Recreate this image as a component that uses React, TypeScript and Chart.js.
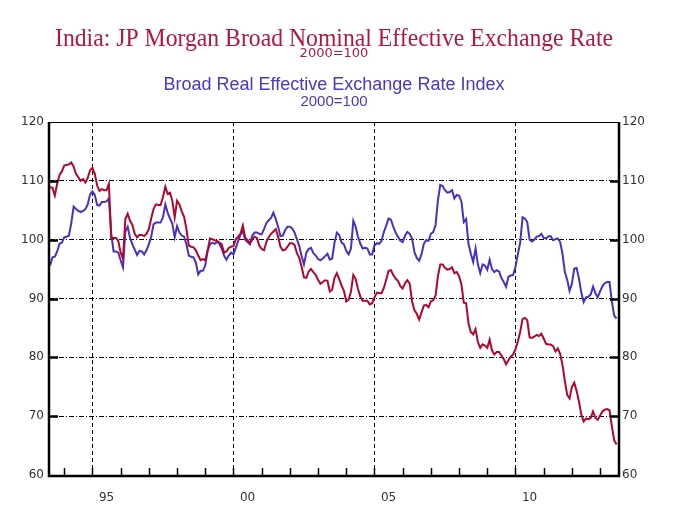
import React, { useEffect, useRef } from 'react';
import { Chart, registerables } from 'chart.js';

Chart.register(...registerables);

// ---- Data (monthly, starting July 1993) ----
const START_YEAR = 1993;
const START_MONTH = 7;

const nominalValues = [
  108.9, 108.8, 107.5, 109.5, 111, 111.6, 112.6, 112.7, 112.8, 113.1,
  112.4, 111.2, 110.6, 110, 110.3, 109.7, 110.5, 111.8, 112.2, 111.2,
  109.2, 108.3, 108.6, 108.4, 108.4, 109.5, 100.3, 100.3, 100.3, 99.8,
  97.8, 96.8, 103.5, 104.4, 103.2, 102.5, 101, 100.4, 100.8, 100.8,
  100.6, 101, 101.8, 103.6, 105.2, 106, 105.9, 105.9, 107.2, 109,
  107.8, 108, 106.6, 103.8, 106.6, 106, 104.8, 103.9, 101.8, 99,
  98.8, 98.7, 98.2, 97.3, 96.5, 96.7, 96.5, 98.1, 100.2, 100.1,
  99.9, 99.8, 99.5, 99.2, 97.8, 98, 98.6, 98.8,
  98.9, 100.1, 100.5, 101, 102.4, 100.3, 99.9, 99.4, 100, 100.5,
  100.3, 99, 98.4, 98.2, 99.6, 100.4, 101, 101.4, 101.8, 100.5,
  98.8, 98.2, 98.3, 98.8, 99.4, 99.4, 99.1, 97.7, 96.9, 95.4,
  93.6, 93.5, 94.6, 95, 94.5, 94, 93.2, 92.5, 92.8, 93.1,
  93, 91.2, 91.5, 93.5, 94.3, 93.3, 92.2, 91.3, 89.5, 89.8,
  91.2, 94, 93.3, 91.6, 90.3, 89.6, 89.6, 89.6, 89, 89.2,
  90.2, 91, 90.9, 90.9, 91.8, 93.2, 94.7, 94.8, 94, 93.4,
  93, 92.1, 91.7, 92.6, 93.1, 92.5, 89.5, 88, 87.4,
  86.4, 87.6, 88.8, 88.9, 88.5, 89.5, 89.7, 90.5, 93.8, 95.8,
  95.8, 95.2, 94.9, 95, 95.3, 94.3, 94.5, 93.8, 92.4, 89.3,
  89.2, 85.8, 84.3, 83.9, 84.8, 82.6, 81.6, 82.2, 82, 81.6,
  83, 81.2, 80.5, 80.9, 80.9, 80.3, 79.7, 78.8, 79.5, 80.1,
  80.5, 81.4, 82.7, 84.3, 86.5, 86.7, 86.3, 83.4, 83.3, 83.5,
  83.8, 83.6, 84, 83.2, 82.3, 82.2, 82.2, 81.9, 81, 81.5,
  80.6, 78.7, 76, 73.6, 73, 75, 75.7, 74.3, 72.5, 70.3,
  69.1, 69.6, 69.5, 69.7, 70.8, 69.7, 69.4, 70.1, 70.8, 71.1,
  71.2, 71, 68.3, 65.9, 65.2,
];

const realValues = [
  95.6, 97, 97.1, 98, 99.3, 99.5, 100.4, 100.5, 100.7, 102.8,
  105.6, 105.2, 104.9, 104.7, 104.9, 105.2, 106, 107.7, 108.2, 107.6,
  105.9, 105.8, 106.4, 106.4, 106.5, 107, 101, 98, 98, 97.8,
  96.5, 95.3, 101.4, 102.2, 100.3, 99.2, 98.3, 97.4, 98.1, 98,
  97.5, 98.2, 99.2, 100.5, 102.6, 102.9, 102.9, 102.9, 103.8, 106,
  104.6, 103.6, 102.7, 100.4, 102.3, 101.2, 100.7, 100.5, 99.2, 97.3,
  97.1, 97, 96.1, 94.1, 94.7, 94.7, 95.6, 98.1, 99.2, 99.5,
  99.3, 99.6, 99.3, 98.5, 97.3, 96.6, 97.3, 97.8,
  97.5, 98.6, 99.8, 100.9, 101.5, 100, 99.6, 99.2, 100.7, 101.2,
  101.2, 101, 100.9, 101.8, 102.8, 103.3, 103.7, 104.6, 103.5, 102.2,
  100.6, 100.7, 101.6, 102.2, 102.2, 101.9, 101.2, 100.1, 98.9, 97.2,
  95.8, 97.8, 98.4, 98.6, 97.7, 97.3, 96.7, 96.5, 96.8, 97.2,
  97.6, 96.6, 96.8, 99.5, 101.2, 100.8, 99.5, 99.2, 98.1, 97.5,
  98.5, 103.2, 102.2, 100.5, 99.3, 98.5, 98.6, 98.5, 97.5, 97.5,
  99, 99.4, 99.3, 99.8, 101.3, 102.4, 103.6, 103.4, 102.2, 101.2,
  100.5, 99.8, 99.6, 100.7, 101.3, 101, 100.2, 97.9, 96.9,
  96.4, 97.5, 99.3, 99.9, 99.8, 101, 101.3, 102.5, 106.7, 109.3,
  109.1, 108.4, 108, 108.1, 108.4, 107, 107.6, 107.5, 106.5, 103,
  103.5, 99.3, 97.6, 96.2, 98.5, 95.8, 94.3, 95.8, 95.6, 94.9,
  96.6, 95, 94.5, 94.8, 94.6, 93.5, 92.8, 92, 93.7, 93.9,
  94, 95.4, 97.5, 99.5, 103.8, 103.6, 103, 100, 99.7, 100,
  100.5, 100.6, 101, 100.3, 100.2, 100.6, 100.6, 99.9, 100.1, 100.2,
  99.6, 97.6, 94.5, 93.2, 91.3, 92.5, 95.1, 95.2, 93.4, 91,
  89.4, 90.2, 90.3, 90.7, 92, 90.9, 90.2, 91.2, 92.1, 92.6,
  92.8, 92.8, 89.5, 87.1, 86.6,
];

const gridYears = [1995, 2000, 2005, 2010];
const yearLabels = ['95', '00', '05', '10'];
const minorYears = [1994, 1995, 1996, 1997, 1998, 1999, 2000, 2001, 2002, 2003, 2004, 2005, 2006, 2007, 2008, 2009, 2010, 2011, 2012, 2013];
const yMin = 60;
const yMax = 120;
const yStep = 10;
const xMin = 1993.46;
const xMax = 2013.67;

const titleMain = 'India: JP Morgan Broad Nominal Effective Exchange Rate';
const titleMainSub = '2000=100';
const titleSecond = 'Broad Real Effective Exchange Rate Index';
const titleSecondSub = '2000=100';

const RED = '#b0072f';
const BLUE = '#4a30c0';
const RED_TEXT = '#b3173d';
const BLUE_TEXT = '#4c37c0';

const toPoints = (vals: number[]) =>
  vals.map((v, i) => ({ x: START_YEAR + (START_MONTH - 1 + i) / 12, y: v }));

function drawText(
  ctx: CanvasRenderingContext2D,
  text: string,
  font: string,
  color: string,
  cx: number,
  baseline: number,
  targetWidth?: number
) {
  ctx.save();
  ctx.font = font;
  ctx.fillStyle = color;
  ctx.textAlign = 'center';
  ctx.textBaseline = 'alphabetic';
  const w = ctx.measureText(text).width;
  const s = targetWidth ? targetWidth / w : 1;
  ctx.translate(cx, baseline);
  ctx.scale(s, 1);
  ctx.fillText(text, 0, 0);
  ctx.restore();
}

const decorPlugin = {
  id: 'decor',
  afterDatasetsDraw(chart: any) {
    const ctx: CanvasRenderingContext2D = chart.ctx;
    const { left, right, top, bottom } = chart.chartArea;
    const xs = chart.scales.x;
    const ys = chart.scales.y;
    ctx.save();
    ctx.strokeStyle = '#000';
    ctx.setLineDash([]);
    // minor year ticks along bottom
    ctx.lineWidth = 1.5;
    minorYears.forEach((yr) => {
      const px = Math.round(xs.getPixelForValue(yr)) + 0.5;
      ctx.beginPath();
      ctx.moveTo(px, bottom);
      ctx.lineTo(px, bottom - 7);
      ctx.stroke();
    });
    // major y ticks inside frame on both sides
    ctx.lineWidth = 2.5;
    for (let v = yMin + yStep; v < yMax; v += yStep) {
      const py = Math.round(ys.getPixelForValue(v)) + 0.5;
      ctx.beginPath();
      ctx.moveTo(left, py);
      ctx.lineTo(left + 9, py);
      ctx.moveTo(right, py);
      ctx.lineTo(right - 9, py);
      ctx.stroke();
    }
    // frame
    ctx.lineWidth = 1;
    ctx.beginPath();
    ctx.moveTo(left, top + 0.5);
    ctx.lineTo(right, top + 0.5);
    ctx.stroke();
    ctx.lineWidth = 2.5;
    ctx.beginPath();
    ctx.moveTo(left, top);
    ctx.lineTo(left, bottom + 1);
    ctx.lineTo(right, bottom + 1);
    ctx.lineTo(right, top);
    ctx.stroke();
    ctx.restore();
  },
  afterDraw(chart: any) {
    const ctx: CanvasRenderingContext2D = chart.ctx;
    const { left, right, bottom } = chart.chartArea;
    const cx = (left + right) / 2;
    drawText(ctx, titleMain, '26px "Liberation Serif"', RED_TEXT, cx, 46, 558);
    drawText(ctx, titleMainSub, '13px "DejaVu Sans"', RED_TEXT, cx, 57);
    drawText(ctx, titleSecond, '18px "Liberation Sans"', BLUE_TEXT, cx, 90);
    drawText(ctx, titleSecondSub, '15px "Liberation Sans"', BLUE_TEXT, cx, 106);
    const xs = chart.scales.x;
    ctx.save();
    ctx.font = '12px "DejaVu Sans"';
    ctx.fillStyle = '#333';
    ctx.textAlign = 'center';
    ctx.textBaseline = 'middle';
    gridYears.forEach((yr, i) => {
      ctx.fillText(yearLabels[i], xs.getPixelForValue(yr + 0.5), bottom + 23);
    });
    ctx.restore();
  },
};

export default function App() {
  const canvasRef = useRef<HTMLCanvasElement | null>(null);

  useEffect(() => {
    if (!canvasRef.current) return;
    const tickFont = { family: '"DejaVu Sans"', size: 12 };
    const chart = new Chart(canvasRef.current, {
      type: 'line',
      data: {
        datasets: [
          {
            label: 'Nominal',
            data: toPoints(nominalValues),
            borderColor: RED,
            borderWidth: 2,
            pointRadius: 0,
            tension: 0,
            fill: false,
          },
          {
            label: 'Real',
            data: toPoints(realValues),
            borderColor: BLUE,
            borderWidth: 2,
            pointRadius: 0,
            tension: 0,
            fill: false,
          },
        ],
      },
      options: {
        responsive: false,
        animation: false,
        events: [],
        layout: { padding: { top: 122, left: 0, right: 0, bottom: 0 } },
        plugins: {
          legend: { display: false },
          tooltip: { enabled: false },
          title: { display: false },
        },
        scales: {
          x: {
            type: 'linear',
            min: xMin,
            max: xMax,
            afterBuildTicks: (s: any) => {
              s.ticks = gridYears.map((v) => ({ value: v }));
            },
            afterFit: (s: any) => {
              s.height = 34;
            },
            ticks: { display: false },
            grid: { color: '#000', lineWidth: 1, drawTicks: false },
            border: { display: false, dash: [4, 3] },
          },
          y: {
            position: 'left',
            min: yMin,
            max: yMax,
            afterFit: (s: any) => {
              s.width = 49;
            },
            ticks: { stepSize: yStep, color: '#333', font: tickFont, padding: 5 },
            grid: {
              drawTicks: false,
              lineWidth: 1,
              color: (c: any) =>
                c.tick && (c.tick.value === yMin || c.tick.value === yMax) ? 'rgba(0,0,0,0)' : '#000',
            },
            border: { display: false, dash: [5, 2, 1, 2] },
          },
          y1: {
            position: 'right',
            min: yMin,
            max: yMax,
            afterFit: (s: any) => {
              s.width = 61;
            },
            ticks: { stepSize: yStep, color: '#333', font: tickFont, padding: 3 },
            grid: { display: false, drawTicks: false },
            border: { display: false },
          },
        },
      },
      plugins: [decorPlugin],
    } as any);
    return () => chart.destroy();
  }, []);

  return (
    <div style={{ position: 'fixed', left: 0, top: 0, width: 680, height: 509, background: '#fff' }}>
      <canvas ref={canvasRef} width={680} height={509} style={{ display: 'block' }} />
    </div>
  );
}
